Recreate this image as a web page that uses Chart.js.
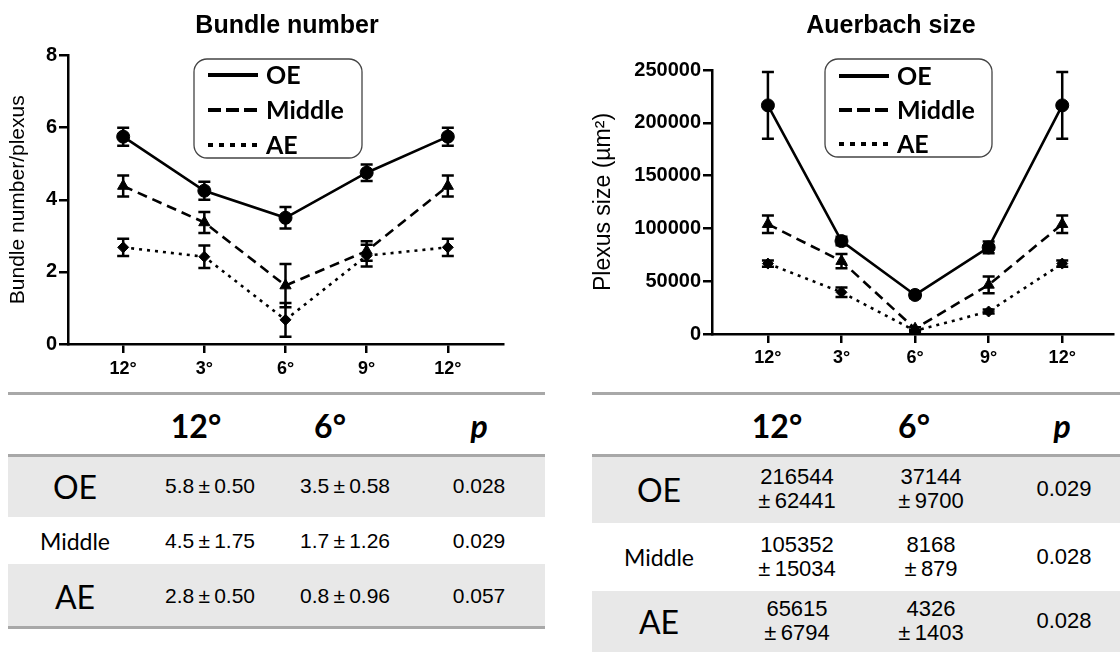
<!DOCTYPE html>
<html><head><meta charset="utf-8">
<script src="https://cdn.jsdelivr.net/npm/chart.js@4.4.1/dist/chart.umd.min.js"></script>
<style>
html,body{margin:0;padding:0;background:#fff;}
body{width:1120px;height:652px;overflow:hidden;position:relative;font-family:"Liberation Sans",Arial,sans-serif;color:#000;}
.cw{position:absolute;}
.hl{position:absolute;height:3px;background:#a8a8a8;}
.band{position:absolute;background:#e8e8e8;}
.cell{position:absolute;transform:translate(-50%,-50%);white-space:nowrap;text-align:center;}
.hd{font-family:Lato,"Open Sans",sans-serif;font-weight:bold;font-size:32px;}
.lab{font-family:Lato,"Open Sans",sans-serif;}
.val{font-family:"Liberation Sans",Arial,sans-serif;}
</style></head><body>
<div class="cw" style="left:0;top:0;width:574px;height:385px"><canvas id="c1"></canvas></div>
<div class="cw" style="left:574px;top:0;width:634px;height:380px"><canvas id="c2"></canvas></div>
<div id="tables"></div>
<script>
// ---------- data ----------
const xLabels = ['12°', '3°', '6°', '9°', '12°'];
const seriesNames = ['OE', 'Middle', 'AE'];

// Bundle number (mean, error)
const bundleOE = [5.75, 4.25, 3.5, 4.75, 5.75];
const bundleOEErr = [0.25, 0.25, 0.3, 0.23, 0.25];
const bundleMiddle = [4.38, 3.37, 1.62, 2.58, 4.38];
const bundleMiddleErr = [0.29, 0.29, 0.6, 0.27, 0.29];
const bundleAE = [2.68, 2.42, 0.67, 2.45, 2.68];
const bundleAEErr = [0.24, 0.31, 0.47, 0.3, 0.24];

// Auerbach size (mean, error)
const sizeOE = [216500, 88000, 37000, 82000, 216500];
const sizeOEErr = [31500, 4000, 3000, 5500, 31500];
const sizeMiddle = [104000, 69000, 5000, 46500, 104000];
const sizeMiddleErr = [8300, 6700, 1500, 8000, 8300];
const sizeAE = [66700, 39500, 3000, 21300, 66700];
const sizeAEErr = [3000, 4500, 1000, 2000, 3000];

// Tables
const tableHeader = ['12°', '6°', 'p'];
const rowLabels = ['OE', 'Middle', 'AE'];
const bundle12 = ['5.8\u2009±\u20090.50', '4.5\u2009±\u20091.75', '2.8\u2009±\u20090.50'];
const bundle6 = ['3.5\u2009±\u20090.58', '1.7\u2009±\u20091.26', '0.8\u2009±\u20090.96'];
const bundleP = ['0.028', '0.029', '0.057'];
const size12 = [['216544', '±\u200962441'], ['105352', '±\u200915034'], ['65615', '±\u20096794']];
const size6 = [['37144', '±\u20099700'], ['8168', '±\u2009879'], ['4326', '±\u20091403']];
const sizeP = ['0.029', '0.028', '0.028'];

// ---------- chart ----------
const F = '"Liberation Sans", Arial, sans-serif';
const pointStyles = ['circle', 'triangle', 'rectRot'];
const lineDashes = [[], [10, 6], [3, 5]];
const legendDashes = [[], [13, 5], [5, 6]];

function makeDs(i, vals, errs) {
  return {
    label: seriesNames[i],
    data: vals.map((v, k) => ({x: k, y: v})),
    errors: errs,
    borderColor: '#000', backgroundColor: '#000',
    borderWidth: 2.6, borderDash: lineDashes[i],
    pointStyle: pointStyles[i], pointRadius: i === 2 ? 5.5 : 6.5,
    pointBorderWidth: 1, pointBackgroundColor: '#000', pointBorderColor: '#000',
    tension: 0, fill: false
  };
}

const errorBars = {
  id: 'errorBars',
  beforeDatasetsDraw(chart) {
    const {ctx, scales: {x, y}} = chart;
    ctx.save();
    ctx.strokeStyle = '#000'; ctx.lineWidth = 2.5; ctx.setLineDash([]);
    chart.data.datasets.forEach(d => {
      d.data.forEach((p, i) => {
        const e = d.errors[i];
        const px = x.getPixelForValue(p.x);
        const t = y.getPixelForValue(p.y + e), b = y.getPixelForValue(p.y - e);
        ctx.beginPath();
        ctx.moveTo(px, t); ctx.lineTo(px, b);
        ctx.moveTo(px - 6, t); ctx.lineTo(px + 6, t);
        ctx.moveTo(px - 6, b); ctx.lineTo(px + 6, b);
        ctx.stroke();
      });
    });
    ctx.restore();
  }
};

const boxLegend = {
  id: 'boxLegend',
  afterDraw(chart, args, o) {
    const ctx = chart.ctx;
    ctx.save();
    ctx.strokeStyle = '#444'; ctx.lineWidth = 1.3; ctx.setLineDash([]);
    ctx.beginPath(); ctx.roundRect(o.x, o.y, o.w, o.h, o.r); ctx.stroke();
    ctx.font = o.font; ctx.textBaseline = 'middle'; ctx.fillStyle = '#000';
    chart.data.datasets.forEach((d, i) => {
      const yy = o.y + o.rows[i];
      ctx.strokeStyle = '#000'; ctx.lineWidth = 4; ctx.setLineDash(legendDashes[i]);
      ctx.beginPath(); ctx.moveTo(o.x + 14, yy); ctx.lineTo(o.x + 64, yy); ctx.stroke();
      ctx.setLineDash([]);
      ctx.fillText(d.label, o.x + 72, yy + 1);
    });
    ctx.restore();
  }
};

function makeOptions(c) {
  const axisGrid = {display: true, drawOnChartArea: false, drawTicks: true, tickLength: 9, color: '#000', lineWidth: 2.5};
  return {
    responsive: true, maintainAspectRatio: false, animation: false,
    layout: {padding: 0},
    plugins: {
      legend: {display: false}, tooltip: {enabled: false},
      title: {display: true, text: c.title, color: '#000',
        font: {family: F, size: 25, weight: 'bold', lineHeight: 1.2},
        padding: {top: c.tTop, bottom: c.tBottom}},
      boxLegend: c.legend
    },
    scales: {
      x: {type: 'linear', min: c.xmin, max: c.xmax,
        afterFit: s => { s.height = c.xH; },
        border: {color: '#000', width: 2.5},
        grid: axisGrid,
        ticks: {stepSize: 1, includeBounds: false, autoSkip: false, maxRotation: 0,
          color: '#000', font: {family: F, size: 18, weight: 'bold'}, padding: c.xPad,
          callback: v => xLabels[Math.round(v)] ?? ''}},
      y: {type: 'linear', min: c.ymin, max: c.ymax,
        afterFit: s => { s.width = c.yW; },
        border: {color: '#000', width: 2.5},
        grid: axisGrid,
        ticks: {stepSize: c.ystep, color: '#000', font: {family: F, size: 20, weight: 'bold'}, padding: 2,
          callback: v => String(v)},
        title: {display: true, text: c.yTitle, color: '#000', font: {family: F, size: c.yTitleSize},
          padding: {top: c.yTitlePad, bottom: 0}}},
      yR: {position: 'right', display: true, grid: {display: false}, border: {display: false},
        ticks: {display: false}, afterFit: s => { s.width = c.rW; }}
    }
  };
}

new Chart(document.getElementById('c1'), {
  type: 'line',
  data: {datasets: [makeDs(0, bundleOE, bundleOEErr), makeDs(1, bundleMiddle, bundleMiddleErr), makeDs(2, bundleAE, bundleAEErr)]},
  options: makeOptions({title: 'Bundle number', tTop: 11, tBottom: 14.5, xmin: -0.68, xmax: 4.68, xH: 41, xPad: 5,
    ymin: 0, ymax: 8, ystep: 2, yW: 68, rW: 71, yTitle: 'Bundle number/plexus', yTitleSize: 21, yTitlePad: 6,
    legend: {x: 194, y: 59, w: 168, h: 99, r: 13, rows: [16, 51, 86], font: 'bold 25px Lato, "Open Sans", sans-serif'}}),
  plugins: [errorBars, boxLegend]
});

new Chart(document.getElementById('c2'), {
  type: 'line',
  data: {datasets: [makeDs(0, sizeOE, sizeOEErr), makeDs(1, sizeMiddle, sizeMiddleErr), makeDs(2, sizeAE, sizeAEErr)]},
  options: makeOptions({title: 'Auerbach size', tTop: 11, tBottom: 29, xmin: -0.76, xmax: 4.69, xH: 46, xPad: 4,
    ymin: 0, ymax: 250000, ystep: 50000, yW: 138, rW: 95, yTitle: 'Plexus size (µm²)', yTitleSize: 23, yTitlePad: 16,
    legend: {x: 251, y: 59, w: 167, h: 98, r: 13, rows: [17, 51, 85], font: 'bold 25px Lato, "Open Sans", sans-serif'}}),
  plugins: [errorBars, boxLegend]
});

// ---------- tables ----------
const T = document.getElementById('tables');
function el(cls, style, html) {
  const d = document.createElement('div');
  d.className = cls; d.setAttribute('style', style); if (html !== undefined) d.innerHTML = html;
  T.appendChild(d); return d;
}
function buildTable(t) {
  t.bands.forEach(b => el('band', `left:${t.x0}px;width:${t.x1 - t.x0}px;top:${b[0]}px;height:${b[1] - b[0]}px`));
  t.lines.forEach(y => el('hl', `left:${t.x0}px;width:${t.x1 - t.x0}px;top:${y - 1.5}px`));
  tableHeader.forEach((h, i) => el('cell hd', `left:${t.hx[i]}px;top:${t.hy}px;${i === 2 ? 'font-style:italic;' : ''}`, h));
  rowLabels.forEach((r, i) => {
    const big = r !== 'Middle';
    el('cell lab', `left:${t.lx}px;top:${t.ry[i]}px;font-size:${big ? 32 : 23}px`, r);
    [t.c1[i], t.c2[i], t.cp[i]].forEach((v, k) => {
      const txt = Array.isArray(v) ? v.join('<br>') : v;
      el('cell val', `left:${t.vx[k]}px;top:${t.ry[i]}px;font-size:${t.vs}px;line-height:${t.lh}px`, txt);
    });
  });
}
buildTable({x0: 8, x1: 545, lines: [393, 455, 627], bands: [[455, 517], [564, 627]],
  hx: [196, 330, 479], hy: 425, lx: 75, ry: [486, 541, 596], vx: [210, 345, 479],
  c1: bundle12, c2: bundle6, cp: bundleP, vs: 21, lh: 24});
buildTable({x0: 592, x1: 1120, lines: [393, 455], bands: [[455, 523], [591, 652]],
  hx: [777, 914, 1062], hy: 425, lx: 659, ry: [489, 557, 621], vx: [797, 931, 1064],
  c1: size12, c2: size6, cp: sizeP, vs: 22, lh: 24});
</script>
</body></html>
